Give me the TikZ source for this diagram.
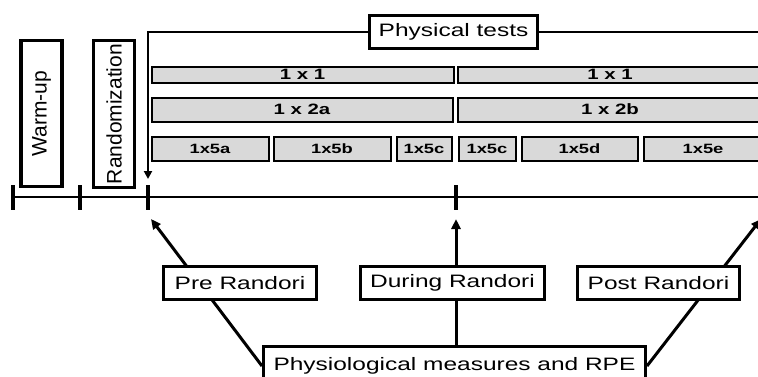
\documentclass[tikz,border=0pt]{standalone}
\usepackage{fontspec}
\setmainfont{Liberation Sans}[FakeStretch=1.36]
\newfontfamily\uprightsans{Liberation Sans}
\usepackage{xcolor}
\usepackage{tikz}
\usetikzlibrary{arrows.meta}

\definecolor{testgrey}{RGB}{217,217,217}

\tikzset{
  labelbox/.style={draw, fill=white, line width=3pt, inner sep=0pt, font=\fontsize{18}{20}\selectfont},
  phasebox/.style={draw, line width=3.5pt, rotate=90, minimum height=41pt, inner sep=0pt, font=\uprightsans\fontsize{21}{23}\selectfont},
  testbar/.style={draw, fill=testgrey, line width=2pt, inner sep=0pt, font=\bfseries\fontsize{15}{17}\selectfont},
  shortbar/.style={testbar, minimum height=24pt, font=\bfseries\fontsize{13.5}{15}\selectfont},
  timetick/.style={line width=3.5pt},
  pointer/.style={line width=3pt, -{Triangle[length=10pt,width=9pt]}},
}

\begin{document}
\begin{tikzpicture}[x=1pt, y=-1pt]
        \useasboundingbox (0,0) rectangle (758,376);
        \clip (0,0) rectangle (758,376);

        % phases before the tests
        \node[phasebox, minimum width=146pt] (warmup) at (41.5,113.5) {Warm-up};
        \node[phasebox, minimum width=147pt] (random) at (114,114) {Randomization};

        % timeline
        \coordinate (t0) at (13,197);
        \coordinate (t1) at (80,197);
        \coordinate (t2) at (148,197);
        \coordinate (t3) at (456,197);
        \coordinate (tend) at (770,197);
        \draw[line width=2.5pt] (t0) -- (tend);
        \draw[timetick] ([yshift=12pt]t0) -- ([yshift=-13pt]t0);
        \draw[timetick] ([yshift=12pt]t1) -- ([yshift=-13pt]t1);
        \draw[timetick] ([yshift=12pt]t2) -- ([yshift=-13pt]t2);
        \draw[timetick] ([yshift=12pt]t3) -- ([yshift=-13pt]t3);

        % physical tests
        \node[labelbox, minimum width=168pt, minimum height=33pt] (ptests) at (453.5,32) {Physical tests};
        \coordinate (bracketend) at (148,179);
        \coordinate (bracketright) at (770,32);
        \draw[line width=2.5pt, -{Triangle[length=8pt,width=8pt]}] (ptests.west) -| (bracketend);
        \draw[line width=2.5pt] (ptests.east) -- (bracketright);

        \node[testbar, minimum width=302pt, minimum height=16pt] (set1a) at (302.5,74.5) {1 x 1};
        \node[testbar, minimum width=305pt, minimum height=16pt] (set1b) at (610,74.5) {1 x 1};
        \node[testbar, minimum width=301pt, minimum height=24pt] (set2a) at (302,109.5) {1 x 2a};
        \node[testbar, minimum width=305pt, minimum height=24pt] (set2b) at (610,109.5) {1 x 2b};

        \node[shortbar, minimum width=117pt] (set5a) at (210,148.5) {1x5a};
        \node[shortbar, minimum width=117pt] (set5b) at (332,148.5) {1x5b};
        \node[shortbar, minimum width=55pt] (set5c) at (424,148.5) {1x5c};
        \node[shortbar, minimum width=57pt] (set5cc) at (487,148.5) {1x5c};
        \node[shortbar, minimum width=116pt] (set5d) at (579.5,148.5) {1x5d};
        \node[shortbar, minimum width=119pt] (set5e) at (703,148.5) {1x5e};

        % measures
        \node[labelbox, minimum width=382pt, minimum height=40pt] (physio) at (454.5,366) {Physiological measures and RPE};
        \coordinate (pretip) at (151,219);
        \coordinate (duringtip) at (456,219);
        \coordinate (posttip) at (761,219);
        \draw[pointer] (physio.west) -- (pretip);
        \draw[pointer] (physio.north -| duringtip) -- (duringtip);
        \draw[pointer] (physio.east) -- (posttip);

        \node[labelbox, minimum width=153pt, minimum height=33pt] (pre) at (240,283) {Pre Randori};
        \node[labelbox, minimum width=184pt, minimum height=33pt] (during) at (452.5,283) {During Randori};
        \node[labelbox, minimum width=162pt, minimum height=33pt] (post) at (658.5,283) {Post Randori};
    \end{tikzpicture}
\end{document}
